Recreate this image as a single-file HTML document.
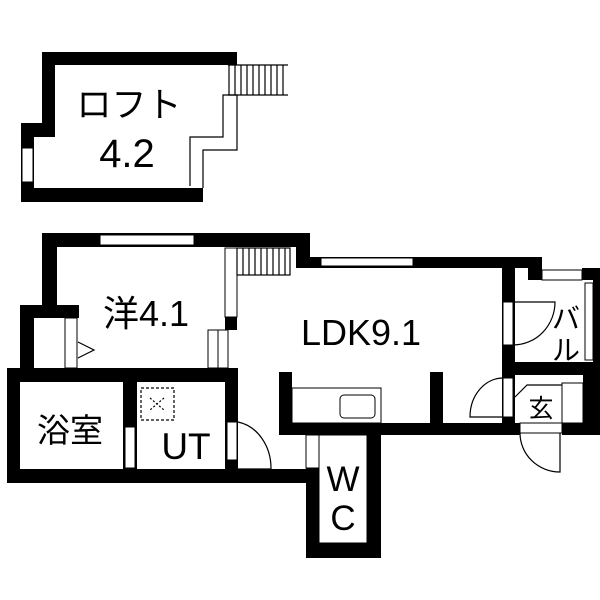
<!DOCTYPE html>
<html><head><meta charset="utf-8"><style>
html,body{margin:0;padding:0;background:#fff;}
svg{display:block;}
text{font-family:"Liberation Sans","Noto Sans CJK JP",sans-serif;fill:#000;}
</style></head><body>
<svg width="600" height="600" viewBox="0 0 600 600" xmlns="http://www.w3.org/2000/svg">
<rect width="600" height="600" fill="#fff"/>
<!-- LOFT -->
<g fill="#000">
<rect x="42" y="52" width="195" height="13"/>
<rect x="42" y="52" width="13" height="85"/>
<rect x="21" y="123" width="34" height="14"/>
<rect x="21" y="123" width="13" height="79"/>
<rect x="21" y="188" width="182" height="14"/>
</g>
<rect x="22" y="148" width="11" height="34" fill="#fff" stroke="#000" stroke-width="1"/>
<g fill="none" stroke="#000" stroke-width="1.2">
<polyline points="190,186 190,137 223,137 223,95 237,95 237,150 203,150 203,188"/>
<line x1="228" y1="65" x2="288" y2="65"/>
<line x1="228" y1="95" x2="288" y2="95"/>
<line x1="229" y1="65" x2="229" y2="95"/><line x1="235" y1="65" x2="235" y2="95"/><line x1="241" y1="65" x2="241" y2="95"/><line x1="247" y1="65" x2="247" y2="95"/><line x1="253" y1="65" x2="253" y2="95"/><line x1="259" y1="65" x2="259" y2="95"/><line x1="265" y1="65" x2="265" y2="95"/><line x1="271" y1="65" x2="271" y2="95"/><line x1="277" y1="65" x2="277" y2="95"/><line x1="283" y1="65" x2="283" y2="95"/>
</g>
<text x="129" y="117" font-size="35" text-anchor="middle">ロフト</text>
<text x="127" y="167" font-size="40" text-anchor="middle">4.2</text>

<!-- MAIN -->
<g fill="#000">
<rect x="42" y="233" width="268" height="14"/>
<rect x="42" y="233" width="15" height="85"/>
<rect x="20" y="305" width="59" height="13"/>
<rect x="20" y="305" width="14" height="70"/>
<rect x="225" y="317" width="12" height="13"/>
<rect x="296" y="233" width="14" height="35"/>
<rect x="296" y="257" width="246" height="11"/>
<rect x="502" y="257" width="13" height="178"/>
<rect x="528" y="268" width="14" height="12"/>
<rect x="582" y="268" width="13" height="12"/>
<rect x="593" y="268" width="7" height="94"/>
<rect x="502" y="362" width="98" height="13"/>
<rect x="583" y="375" width="17" height="60"/>
<rect x="562" y="423" width="38" height="12"/>
<rect x="279" y="372" width="13" height="63"/>
<rect x="430" y="372" width="13" height="51"/>
<rect x="279" y="423" width="241" height="12"/>
<rect x="7" y="368" width="231" height="14"/>
<rect x="7" y="368" width="13" height="115"/>
<rect x="7" y="469" width="312" height="14"/>
<rect x="123" y="382" width="14" height="87"/>
<rect x="225" y="382" width="13" height="87"/>
<rect x="306" y="435" width="75" height="123"/>
</g>
<g fill="#fff" stroke="#000" stroke-width="1">
<rect x="100" y="235" width="94" height="10"/>
<rect x="321" y="258" width="92" height="8"/>
<rect x="542" y="270" width="40" height="10"/>
<rect x="585" y="283" width="8" height="77"/>
<rect x="225" y="248" width="12" height="69"/>
<rect x="208" y="330" width="10" height="38"/><rect x="218" y="330" width="10" height="38"/>
<rect x="65" y="318" width="12" height="50"/>
<rect x="319" y="435" width="48" height="108"/>
<rect x="306" y="435" width="13" height="33"/>
<rect x="125" y="427" width="10" height="41"/>
<rect x="227" y="422" width="10" height="38"/>
<rect x="503" y="302" width="10" height="43"/>
<rect x="503" y="378" width="10" height="39"/>
<rect x="520" y="423" width="42" height="10"/>
<rect x="562" y="383" width="21" height="40"/>
<rect x="292" y="388" width="89" height="35"/>
<rect x="340" y="395" width="35" height="23" rx="4"/>
</g>
<g fill="none" stroke="#000" stroke-width="1.2">
<rect x="237" y="248" width="53" height="27" fill="#fff"/>
<line x1="243" y1="248" x2="243" y2="275"/><line x1="249" y1="248" x2="249" y2="275"/><line x1="255" y1="248" x2="255" y2="275"/><line x1="261" y1="248" x2="261" y2="275"/><line x1="267" y1="248" x2="267" y2="275"/><line x1="273" y1="248" x2="273" y2="275"/><line x1="279" y1="248" x2="279" y2="275"/><line x1="285" y1="248" x2="285" y2="275"/>
<polyline points="78,342 94,350 78,358"/>
<rect x="141" y="388" width="33" height="32" stroke-dasharray="3,2"/>
<path d="M150 398 l14 12 M164 398 l-14 12" stroke-dasharray="2,2"/>
<path d="M238 422 A40 47 0 0 1 271 469 L238 469"/>
<path d="M513 302 L555 302 A42 43 0 0 1 513 345"/>
<path d="M503 378 A33 39 0 0 0 470 417 L503 417"/>
<path d="M520 433 A40 39 0 0 0 560 472 L560 433"/>
<polyline points="515,397 527,385 562,385"/>
</g>
<text x="146" y="326" font-size="36" text-anchor="middle">洋4.1</text>
<text x="361" y="345" font-size="36" text-anchor="middle">LDK9.1</text>
<text x="566" y="328" font-size="28" text-anchor="middle">バ</text>
<text x="566" y="360" font-size="28" text-anchor="middle">ル</text>
<text x="541" y="417" font-size="25" text-anchor="middle">玄</text>
<text x="70" y="442" font-size="33" text-anchor="middle">浴室</text>
<text x="186" y="459" font-size="37" text-anchor="middle">UT</text>
<text x="343" y="491" font-size="35" text-anchor="middle">W</text>
<text x="343" y="530" font-size="35" text-anchor="middle">C</text>
</svg>
</body></html>
